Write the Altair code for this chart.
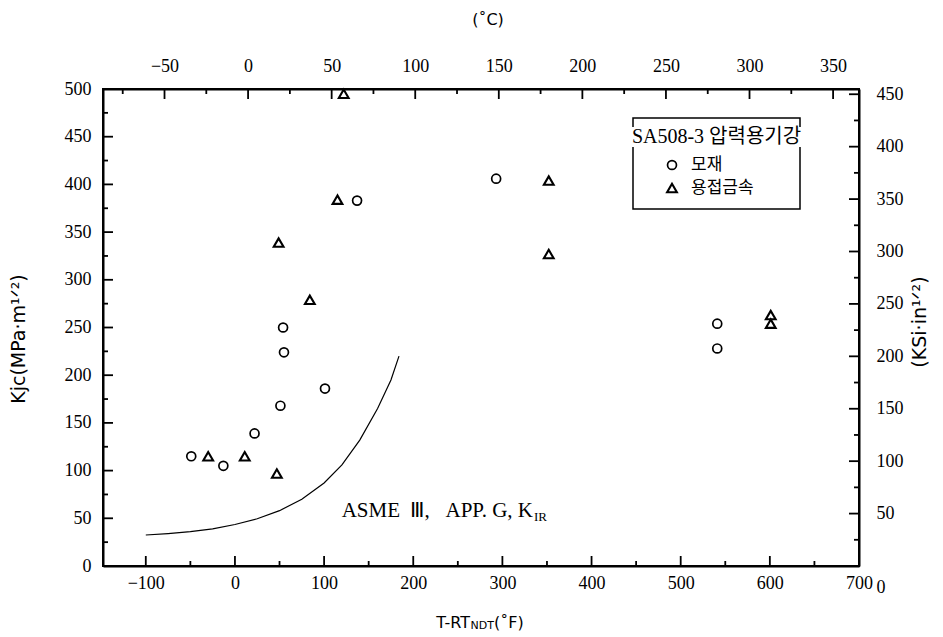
import altair as alt
import pandas as pd

# ---------------- data ----------------
# base metal (모재), open circles
base_T = [-49, -13, 22, 51, 55, 54, 101, 137, 293, 541, 541]
base_K = [115, 105, 139, 168, 224, 250, 186, 383, 406, 254, 228]
# weld metal (용접금속), open triangles
weld_T = [-30, 11, 47, 49, 84, 115, 122, 352, 352, 601, 601]
weld_K = [115, 115, 97, 339, 279, 384, 495, 404, 327, 263, 254]
# ASME III App. G  K_IR reference curve
kir_T = [-100, -75, -50, -25, 0, 25, 50, 75, 100, 120, 140, 160, 175, 184]
kir_K = [32.5, 34, 36, 39, 43.5, 49.5, 58, 70, 87, 106, 132, 165, 195, 220]

# axis tick values
bottom_major = [-100, 0, 100, 200, 300, 400, 500, 600, 700]
bottom_minor = [-50, 50, 150, 250, 350, 450, 550, 650]
left_major = [0, 50, 100, 150, 200, 250, 300, 350, 400, 450, 500]
left_minor = [25, 75, 125, 175, 225, 275, 325, 375, 425, 475]
top_major = [-50, 0, 50, 100, 150, 200, 250, 300, 350]
top_minor = [-75, -25, 25, 75, 125, 175, 225, 275, 325]
right_major = [0, 50, 100, 150, 200, 250, 300, 350, 400, 450]
right_minor = [25, 75, 125, 175, 225, 275, 325, 375, 425]

# ---------------- layout ----------------
W, H = 756, 477
xs = alt.Scale(domain=[-148, 700], nice=False, zero=False)
ys = alt.Scale(domain=[0, 500], nice=False, zero=False)
xs_top = alt.Scale(domain=[-86.8, 365.5], nice=False, zero=False)
ys_right = alt.Scale(domain=[0, 455], nice=False, zero=False)

LABEL_FONT = "Liberation Serif"
SANS = "DejaVu Sans"
CJK = "Liberation Serif, Noto Sans CJK KR"
minus_expr = "datum.value < 0 ? '\u2212' + (-datum.value) : '' + datum.value"

common = dict(ticks=False, grid=False, domainColor="black", domainWidth=2,
              labelFont=LABEL_FONT, labelFontSize=18, labelColor="black",
              labelFlush=False, labelOverlap=False, title=None)

bottom_axis = alt.Axis(orient="bottom", values=bottom_major, labelPadding=8,
                       labelExpr=minus_expr, **common)
left_axis = alt.Axis(orient="left", values=left_major, labelPadding=12, **common)
top_axis = alt.Axis(orient="top", values=top_major, labelPadding=14,
                    labelExpr=minus_expr, **common)
right_axis = alt.Axis(orient="right", values=right_major, labelPadding=17,
                      labelOffset={"condition": {"test": "datum.value == 0", "value": 21}, "value": 0},
                      **common)

df_base = pd.DataFrame({"T": base_T, "K": base_K})
df_weld = pd.DataFrame({"T": weld_T, "K": weld_K})
df_kir = pd.DataFrame({"T": kir_T, "K": kir_K})
one = pd.DataFrame({"a": [0]})


def vals(v):
    return pd.DataFrame({"v": v})


circles = alt.Chart(df_base).mark_point(
    shape="circle", filled=False, color="black", size=80, strokeWidth=1.7, opacity=1
).encode(x=alt.X("T:Q", scale=xs, axis=bottom_axis),
         y=alt.Y("K:Q", scale=ys, axis=left_axis))

triangles = alt.Chart(df_weld).mark_point(
    shape="triangle-up", filled=False, color="black", size=95, strokeWidth=2.1, opacity=1
).encode(x=alt.X("T:Q", scale=xs, axis=None),
         y=alt.Y("K:Q", scale=ys, axis=None))

curve = alt.Chart(df_kir).mark_line(color="black", strokeWidth=1.2).encode(
    x=alt.X("T:Q", scale=xs, axis=None), y=alt.Y("K:Q", scale=ys, axis=None))

tick_style = dict(color="black", strokeWidth=1.8)
b_major = alt.Chart(vals(bottom_major[:-1])).mark_rule(**tick_style).encode(
    x=alt.X("v:Q", scale=xs, axis=None), y=alt.value(H), y2=alt.value(H - 10))
b_minor = alt.Chart(vals(bottom_minor)).mark_rule(**tick_style).encode(
    x=alt.X("v:Q", scale=xs, axis=None), y=alt.value(H), y2=alt.value(H - 5))
l_major = alt.Chart(vals(left_major[1:-1])).mark_rule(**tick_style).encode(
    y=alt.Y("v:Q", scale=ys, axis=None), x=alt.value(0), x2=alt.value(10))
l_minor = alt.Chart(vals(left_minor)).mark_rule(**tick_style).encode(
    y=alt.Y("v:Q", scale=ys, axis=None), x=alt.value(0), x2=alt.value(5))
t_major = alt.Chart(vals(top_major)).mark_rule(**tick_style).encode(
    x=alt.X("v:Q", scale=xs_top, axis=top_axis), y=alt.value(0), y2=alt.value(10))
t_minor = alt.Chart(vals(top_minor)).mark_rule(**tick_style).encode(
    x=alt.X("v:Q", scale=xs_top, axis=None), y=alt.value(0), y2=alt.value(5))
r_major = alt.Chart(vals(right_major)).mark_rule(**tick_style).encode(
    y=alt.Y("v:Q", scale=ys_right, axis=right_axis), x=alt.value(W), x2=alt.value(W - 10))
r_minor = alt.Chart(vals(right_minor)).mark_rule(**tick_style).encode(
    y=alt.Y("v:Q", scale=ys_right, axis=None), x=alt.value(W), x2=alt.value(W - 5))


def txt(s, x, y, font, size, align="left", baseline="middle", angle=0):
    kw = dict(font=font, fontSize=size, align=align, baseline=baseline, color="black")
    if angle:
        kw["angle"] = angle
    return alt.Chart(one).mark_text(**kw).encode(
        x=alt.value(x), y=alt.value(y), text=alt.value(s))


# legend box
box = alt.Chart(one).mark_rect(fill="white", stroke="black", strokeWidth=1.5).encode(
    x=alt.value(530), x2=alt.value(697), y=alt.value(29), y2=alt.value(120))
box_gap = alt.Chart(one).mark_rect(fill="white").encode(
    x=alt.value(510), x2=alt.value(717), y=alt.value(38), y2=alt.value(58))
leg_title = txt("SA508-3 압력용기강", 613.5, 48, CJK, 20, align="center")
leg_c = alt.Chart(one).mark_point(shape="circle", filled=False, color="black",
                                  size=80, strokeWidth=1.7, opacity=1).encode(
    x=alt.value(569), y=alt.value(76))
leg_t = alt.Chart(one).mark_point(shape="triangle-up", filled=False, color="black",
                                  size=95, strokeWidth=2.1, opacity=1).encode(
    x=alt.value(569), y=alt.value(99))
leg_c_txt = txt("모재", 588, 76, "Noto Sans CJK KR", 17)
leg_t_txt = txt("용접금속", 588, 99, "Noto Sans CJK KR", 17)

# annotation of the curve
NB = "\u00a0"
ann = txt("ASME" + NB * 2 + "\u2162," + NB * 3 + "APP." + NB + "G," + NB + "K",
          430, 428, LABEL_FONT, 21, align="right", baseline="alphabetic")
ann_sub = txt("IR", 431, 432, LABEL_FONT, 13, baseline="alphabetic")

# axis titles
xt1 = txt("T-RT", 367, 539, SANS, 16, align="right", baseline="alphabetic")
xt2 = txt("NDT", 367.5, 540, SANS, 11, baseline="alphabetic")
xt3 = txt("(\u02daF)", 391, 539, SANS, 16, baseline="alphabetic")
ct = txt("(\u02daC)", 385, -69, SANS, 16, align="center")
yl = txt("Kjc(MPa\u00b7m\u00b9\u141f\u00b2)", -84, 250, SANS, 19, align="center", angle=270)
yr = txt("(KSi\u00b7in\u00b9\u141f\u00b2)", 817, 233, SANS, 19, align="center", angle=270)

chart = alt.layer(
    circles, triangles, curve,
    b_major, b_minor, l_major, l_minor, t_major, t_minor, r_major, r_minor,
    box, box_gap, leg_title, leg_c, leg_t, leg_c_txt, leg_t_txt,
    ann, ann_sub, xt1, xt2, xt3, ct, yl, yr,
).resolve_scale(
    x="independent", y="independent"
).properties(
    width=W, height=H,
    padding={"left": 103, "top": 89, "right": 84, "bottom": 71},
    autosize=alt.AutoSizeParams(type="none"),
    background="white",
).configure_view(stroke="black", strokeWidth=2)

chart.save("out.html", embed_options={"renderer": "svg", "actions": False})
